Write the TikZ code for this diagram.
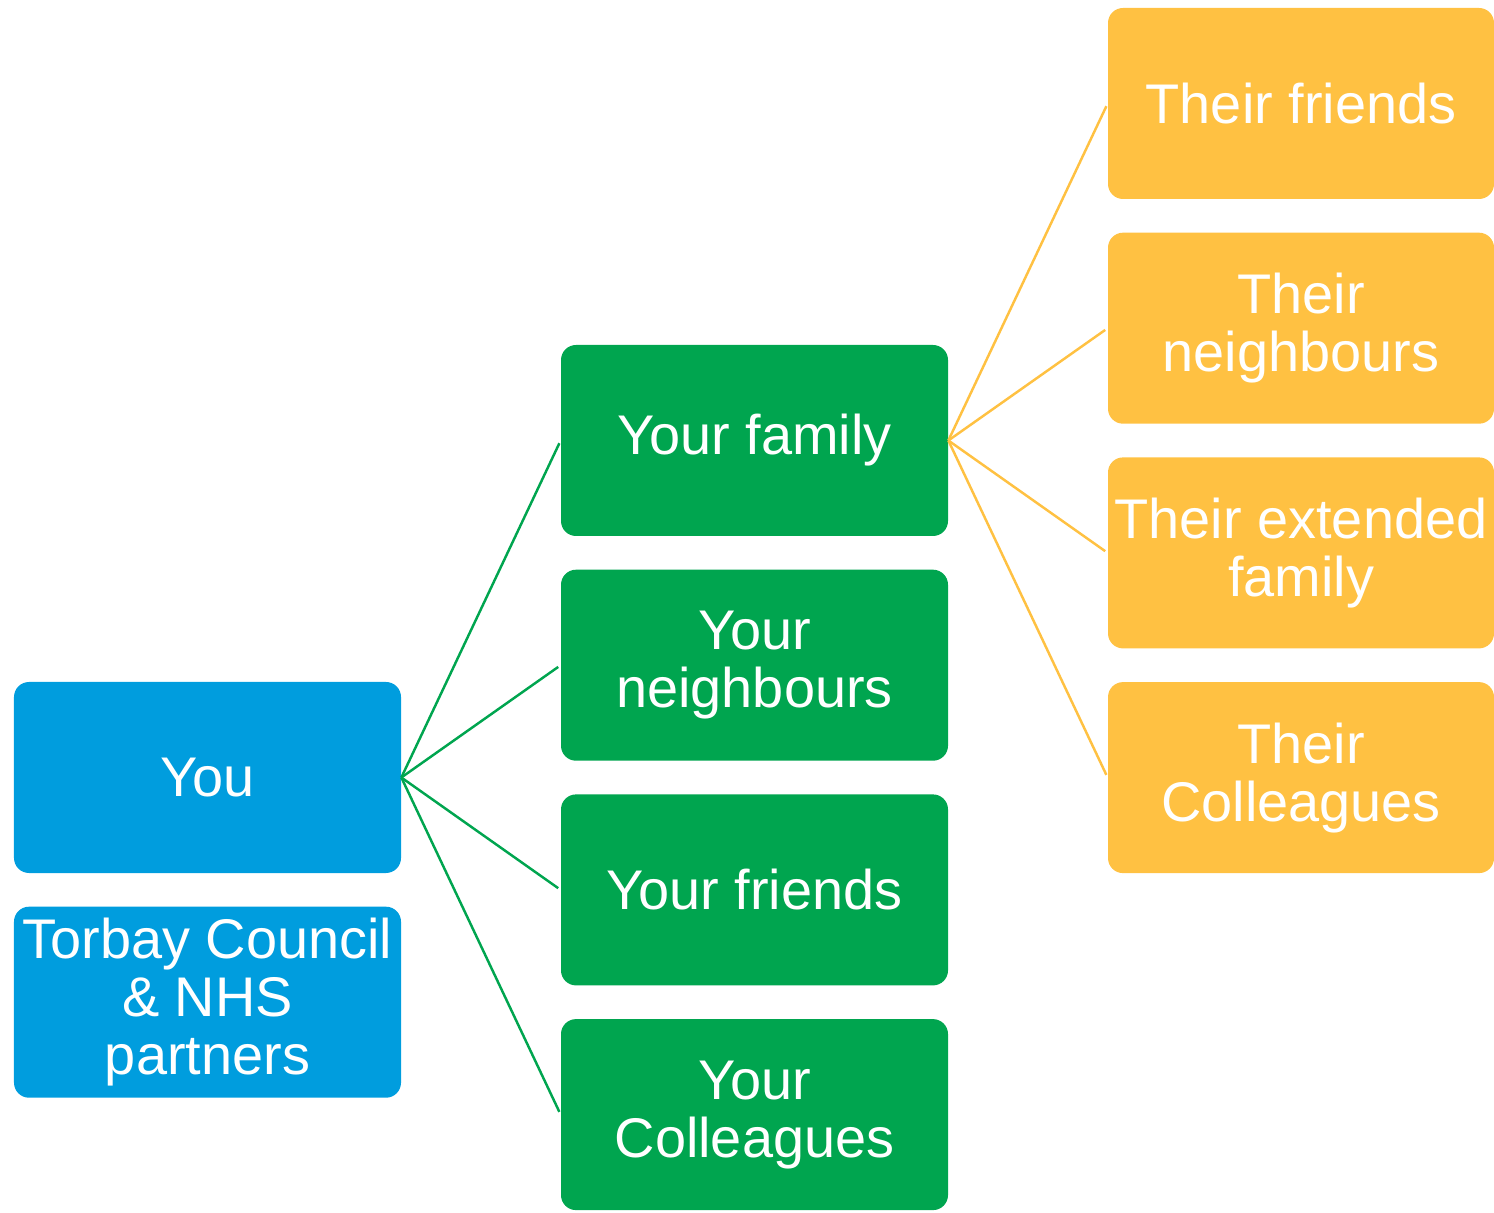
\documentclass[tikz,border=0pt]{standalone}
\usepackage{fontspec}
\setmainfont{Liberation Sans}
\usetikzlibrary{positioning}

\definecolor{youblue}{HTML}{009DDE}
\definecolor{yourgreen}{HTML}{00A54F}
\definecolor{theirorange}{HTML}{FFC142}

\tikzset{
  box/.style={rounded corners=0.3cm, minimum width=7.74cm, minimum height=3.82cm,
    inner sep=0pt, align=center, text=white,
    font=\fontsize{31.8}{33}\selectfont},
  youbox/.style={box, fill=youblue},
  greenbox/.style={box, fill=yourgreen},
  orangebox/.style={box, fill=theirorange, minimum width=7.72cm},
  greenlink/.style={yourgreen, line width=1.4pt, shorten >=0.06cm},
  orangelink/.style={theirorange, line width=1.4pt, shorten >=0.06cm}
}

\begin{document}
\begin{tikzpicture}

        \useasboundingbox (0,0) rectangle (29.88,24.24);

        %You and partners
        \node [youbox] (you) at (4.15,8.69) {You};
        \node [youbox, below=0.66cm of you] (torbay) {Torbay Council\\ \& NHS\\ partners};

        %Your circle
        \node [greenbox] (yfamily)     at (15.09,15.43) {Your family};
        \node [greenbox, below=0.66cm of yfamily] (yneighbours) {Your\\ neighbours};
        \node [greenbox, below=0.66cm of yneighbours] (yfriends) {Your friends};
        \node [greenbox, below=0.66cm of yfriends] (ycolleagues) {Your\\ Colleagues};

        %Their circle
        \node [orangebox] (tfriends)   at (26.02,22.17) {Their friends};
        \node [orangebox, below=0.66cm of tfriends] (tneighbours) {Their\\ neighbours};
        \node [orangebox, below=0.66cm of tneighbours] (tfamily) {Their extended\\ family};
        \node [orangebox, below=0.66cm of tfamily] (tcolleagues) {Their\\ Colleagues};

        %Links
        \foreach \n in {yfamily,yneighbours,yfriends,ycolleagues}
          \draw [greenlink] (you.east) -- (\n.west);
        \foreach \n in {tfriends,tneighbours,tfamily,tcolleagues}
          \draw [orangelink] (yfamily.east) -- (\n.west);

\end{tikzpicture}
\end{document}
